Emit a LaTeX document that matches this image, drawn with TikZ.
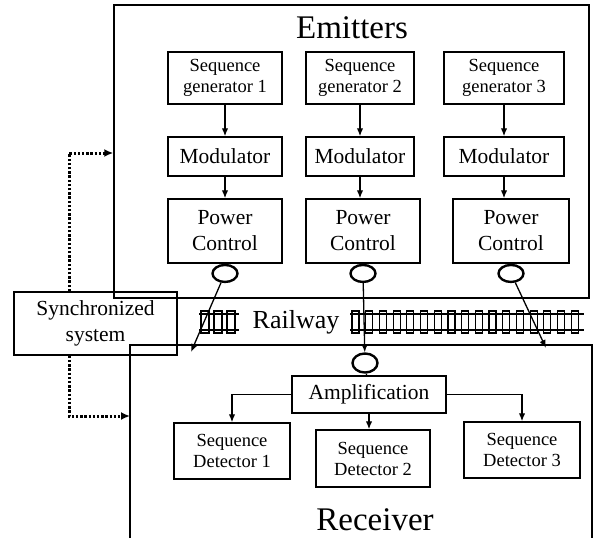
\documentclass[tikz,border=0pt]{standalone}
\usepackage{fontspec}
\setmainfont{Liberation Serif}
\usepackage{tikz}
\usetikzlibrary{positioning,arrows.meta,shapes.geometric,calc}
\tikzset{
  outerbox/.style={rectangle,draw=black,line width=1.5pt,inner sep=0pt},
  genbox/.style={rectangle,draw=black,line width=1.5pt,align=center,inner sep=0pt,font=\fontsize{18.5}{21}\selectfont},
  bigbox/.style={rectangle,draw=black,line width=1.5pt,align=center,inner sep=0pt,font=\fontsize{21.5}{26}\selectfont},
  port/.style={ellipse,draw=black,line width=2.4pt,minimum width=25pt,minimum height=17pt,inner sep=0pt},
  titletext/.style={font=\fontsize{33}{36}\selectfont},
  edge/.style={-{Latex[length=8pt,width=6.5pt]},line width=1.3pt},
  plainedge/.style={line width=1.3pt},
  syncline/.style={-{Latex[length=9pt,width=8pt]},line width=3pt,dash pattern=on 2.4pt off 1.8pt},
  tie/.style={draw=black,line width=1.2pt}
}
\begin{document}
\begin{tikzpicture}[x=1pt,y=-1pt]
  \useasboundingbox (0,0) rectangle (594,538);
  % emitter side
  \node[outerbox,minimum width=475pt,minimum height=293pt] (emitbox) at (351.5,151.5) {};
  \node[titletext] (emittitle) at (352,28) {Emitters};
  \node[genbox,minimum width=114pt,minimum height=52pt] (gen1) at (225,78) {Sequence\\generator 1};
  \node[genbox,minimum width=108pt,minimum height=52pt] (gen2) at (360,78) {Sequence\\generator 2};
  \node[genbox,minimum width=120pt,minimum height=52pt] (gen3) at (504,78) {Sequence\\generator 3};
  \node[bigbox,minimum width=114pt,minimum height=39pt] (mod1) at (225,156.5) {Modulator};
  \node[bigbox,minimum width=108pt,minimum height=39pt] (mod2) at (360,156.5) {Modulator};
  \node[bigbox,minimum width=120pt,minimum height=39pt] (mod3) at (504,156.5) {Modulator};
  \node[bigbox,minimum width=114pt,minimum height=64pt] (pc1) at (225,231) {Power\\Control};
  \node[bigbox,minimum width=114pt,minimum height=64pt] (pc2) at (363,231) {Power\\Control};
  \node[bigbox,minimum width=116pt,minimum height=64pt] (pc3) at (511,231) {Power\\Control};
  \node[port,below=0pt of pc1] (ant1) {};
  \node[port,below=0pt of pc2] (ant2) {};
  \node[port,below=0pt of pc3] (ant3) {};
  \foreach \i in {1,2,3} {
    \draw[edge] (gen\i.south) -- (gen\i.south |- mod\i.north);
    \draw[edge] (mod\i.south) -- (mod\i.south |- pc\i.north);
  }

  % synchronisation
  \node[bigbox,minimum width=163pt,minimum height=63pt] (sync) at (95.5,323.5) {Synchronized\\system};
  \coordinate (recvleft) at (130,416);
  \draw[syncline] ([xshift=-26.5pt]sync.north) |- (emitbox.west |- 0,153);
  \draw[syncline] ([xshift=-26.5pt]sync.south) |- (recvleft);

  % railway
  \node[font=\fontsize{26}{28}\selectfont] (rail) at (296,322) {Railway};
  \draw[line width=1.2pt] (199,314) -- (239,314) (199,330) -- (239,330);
  \foreach \x in {201,214,227} \draw[tie] (\x,311) rectangle ++(8,22);
  \draw[line width=1.2pt] (350,314) -- (584,314) (350,330) -- (584,330);
  \foreach \i in {0,...,16} \draw[tie] (352+\i*13.7,311) rectangle ++(7,22);

  % receiver side
  \draw[line width=1.5pt] (130,538) -- (130,345) -- (592,345) -- (592,538);
  \node[titletext] (recvtitle) at (375,520) {Receiver};
  \node[port,minimum width=25pt,minimum height=19pt] (antr) at (365,363) {};
  \node[bigbox,minimum width=154pt,minimum height=37pt] (amp) at (369,394.5) {Amplification};
  \node[genbox,minimum width=116pt,minimum height=56pt] (det1) at (232,451) {Sequence\\Detector 1};
  \node[genbox,minimum width=114pt,minimum height=57pt] (det2) at (373,458.5) {Sequence\\Detector 2};
  \node[genbox,minimum width=116pt,minimum height=56pt] (det3) at (522,450) {Sequence\\Detector 3};
  \coordinate (hit1) at (191,352);
  \coordinate (hit3) at (546,348);
  \draw[edge] (ant1) -- (hit1);
  \draw[edge] (ant2) -- (antr);
  \draw[edge] (ant3) -- (hit3);
  \draw[plainedge] (antr) -- (amp);
  \draw[edge] (amp.west) -| (det1.north);
  \draw[edge] (amp.south) -- (amp.south |- det2.north);
  \draw[edge] (amp.east) -| (det3.north);
\end{tikzpicture}
\end{document}
